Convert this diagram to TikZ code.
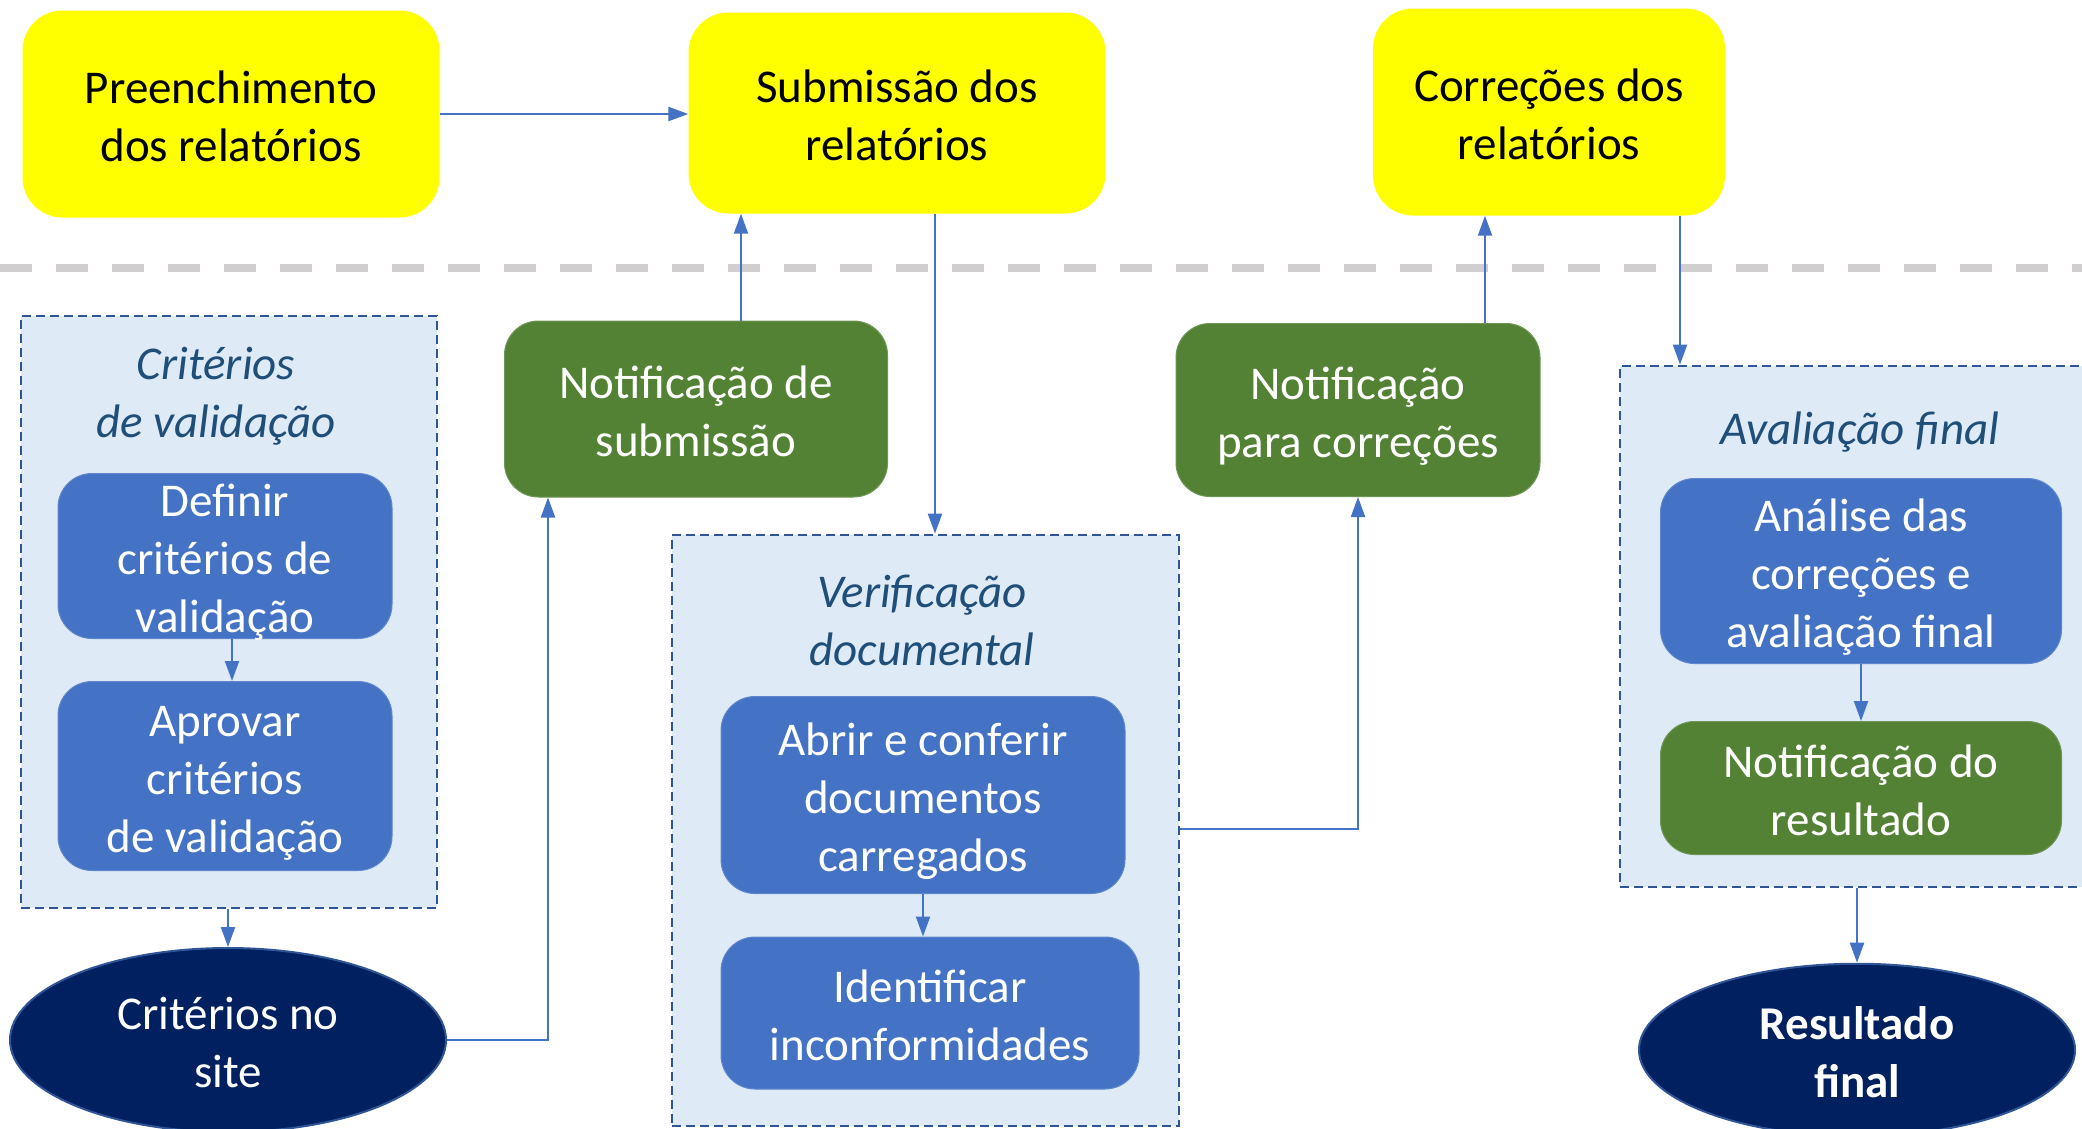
\documentclass[tikz,border=0pt]{standalone}
\usepackage{fontspec}
\setmainfont{Carlito}
\usetikzlibrary{shapes.geometric,arrows.meta,calc}
\definecolor{yel}{HTML}{FFFF00}
\definecolor{grn}{HTML}{548235}
\definecolor{blu}{HTML}{4472C4}
\definecolor{navy}{HTML}{002060}
\definecolor{pale}{HTML}{DEEBF7}
\definecolor{framec}{HTML}{2F5597}
\definecolor{ttlc}{HTML}{1F4E79}
\definecolor{sepc}{HTML}{D0CECE}
\newcommand\tstr{\rule{0pt}{50pt}}
\newcommand\bstr{\rule[-14pt]{0pt}{0pt}}
\begin{document}
\begin{tikzpicture}[x=1pt,y=-1pt,
 every node/.style={font=\fontsize{47}{58}\selectfont, align=center, inner sep=0pt},
 ybox/.style={rectangle, rounded corners=40pt, fill=yel, text=black},
 gbox/.style={rectangle, rounded corners=34pt, fill=grn, draw=grn!85!white, line width=1pt, text=white},
 bbox/.style={rectangle, rounded corners=34pt, fill=blu, draw=blu!85!white, line width=1pt, text=white},
 ell/.style={ellipse, fill=navy, draw=framec, line width=2pt, text=white},
 grp/.style={rectangle, fill=pale, draw=framec, line width=2.8pt, dash pattern=on 9pt off 5pt},
 ttlstyle/.style={text=ttlc, font=\fontsize{47}{58}\selectfont\itshape},
 conn/.style={draw=blu, line width=2.2pt, -{Triangle[length=20pt,width=14pt]}}
]
\clip (0,0) rectangle (2082,1128);
\fill[white] (0,0) rectangle (2082,1128);

% separator
\coordinate (sepL) at (0,268);
\coordinate (sepR) at (2082,268);
\draw[draw=sepc, line width=8pt, dash pattern=on 32pt off 24pt] (sepL) -- (sepR);

% group containers
\node[grp, minimum width=416pt, minimum height=592pt] (gcrit) at (229,612) {};
\node[grp, minimum width=507pt, minimum height=591pt] (gver) at (925.5,830.5) {};
\node[grp, minimum width=480pt, minimum height=521pt] (gaval) at (1860,626.5) {};

% titles
\node[ttlstyle] (tcrit) at (216,390) {\tstr Critérios\\ de validação\bstr};
\node[ttlstyle] (tver) at (922,618) {\tstr Verificação\\ documental\bstr};
\node[ttlstyle] (taval) at (1860,426) {\tstr Avaliação final\bstr};

% top row
\node[ybox, minimum width=417pt, minimum height=207pt] (pre) at (231,114) {\tstr Preenchimento\\ dos relatórios\bstr};
\node[ybox, minimum width=417pt, minimum height=201pt] (sub) at (897,113) {\tstr Submissão dos\\ relatórios\bstr};
\node[ybox, minimum width=352pt, minimum height=207pt] (cor) at (1549,112) {\tstr Correções dos\\ relatórios\bstr};

% left group
\node[bbox, minimum width=334pt, minimum height=165pt] (def) at (225,556) {};
\node[text=white] (deft) at (225,562) {Definir\\ critérios de\\ validação};
\node[bbox, minimum width=334pt, minimum height=189pt] (apr) at (225,776) {\tstr Aprovar\\ critérios\\ de validação\bstr};
\node[ell, minimum width=436pt, minimum height=184pt] (site) at (228,1040) {\tstr Critérios no\\ site\bstr};

% middle
\node[gbox, minimum width=383pt, minimum height=176pt] (nsub) at (696,409) {\tstr Notificação de\\ submissão\bstr};
\node[bbox, minimum width=404pt, minimum height=197pt] (abr) at (923,795) {\tstr Abrir e conferir\\ documentos\\ carregados\bstr};
\node[bbox, minimum width=418pt, minimum height=152pt] (idf) at (930,1013) {\tstr Identificar\\ inconformidades\bstr};
\node[gbox, minimum width=364pt, minimum height=173pt] (ncor) at (1358,410) {\tstr Notificação\\ para correções\bstr};

% right group
\node[bbox, minimum width=401pt, minimum height=185pt] (ana) at (1861,571) {\tstr Análise das\\ correções e\\ avaliação final\bstr};
\node[gbox, minimum width=401pt, minimum height=133pt] (nres) at (1861,788) {\tstr Notificação do\\ resultado\bstr};
\node[ell, minimum width=436pt, minimum height=172pt, font=\fontsize{47}{58}\selectfont\bfseries] (res) at (1857,1050) {\tstr Resultado\\ final\bstr};

% helper coordinates
\coordinate (xa) at (741,0);
\coordinate (xb) at (935,0);
\coordinate (xd) at (548,0);
\coordinate (yv) at (0,829);
\coordinate (xe) at (1485,0);
\coordinate (xf) at (1680,0);
\coordinate (xg) at (232,0);

% connectors
\draw[conn] (pre.east) -- (pre.east -| sub.west);
\draw[conn] (nsub.north -| xa) -- (sub.south -| xa);
\draw[conn] (sub.south -| xb) -- (gver.north -| xb);
\draw[conn] (def.south -| xg) -- (apr.north -| xg);
\draw[conn] (gcrit.south -| site.north) -- (site.north);
\draw[conn] (site.east) -- (site.east -| xd) -- (nsub.south -| xd);
\draw[conn] (abr.south) -- (abr.south |- idf.north);
\draw[conn] (gver.east |- yv) -- (ncor.south |- yv) -- (ncor.south);
\draw[conn] (ncor.north -| xe) -- (cor.south -| xe);
\draw[conn] (cor.south -| xf) -- (gaval.north -| xf);
\draw[conn] (ana.south) -- (nres.north);
\draw[conn] (gaval.south -| res.north) -- (res.north);
\end{tikzpicture}
\end{document}
